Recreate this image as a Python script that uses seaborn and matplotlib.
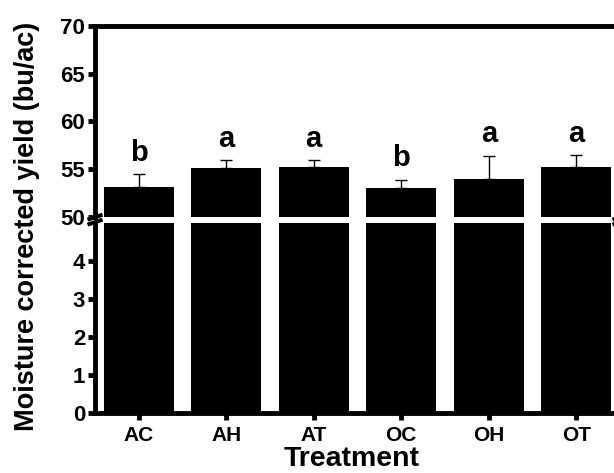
import matplotlib
matplotlib.use("Agg")
import matplotlib.pyplot as plt
from matplotlib.lines import Line2D
import seaborn as sns
import pandas as pd

# ---- data ----
treatments = ["AC", "AH", "AT", "OC", "OH", "OT"]
yield_means = [53.15, 55.15, 55.25, 53.05, 54.0, 55.25]
yield_errors = [1.3, 0.75, 0.7, 0.85, 2.4, 1.2]
sig_letters = ["b", "a", "a", "b", "a", "a"]
top_ticks = [50, 55, 60, 65, 70]
bottom_ticks = [0, 1, 2, 3, 4]

df = pd.DataFrame({"Treatment": treatments, "Yield": yield_means})

sns.set_style("ticks")
plt.rcParams["font.family"] = ["Liberation Sans", "DejaVu Sans"]
plt.rcParams["font.weight"] = "bold"
for key in ("text.color", "axes.labelcolor", "xtick.color", "ytick.color",
            "xtick.labelcolor", "ytick.labelcolor"):
    plt.rcParams[key] = "black"

W, H = 614, 473
fig = plt.figure(figsize=(W / 100, H / 100), dpi=100)


def fx(px):
    return px / W


def fy(py):
    return 1 - py / H


left_px, right_px = 95, 620
top_ax = fig.add_axes([fx(left_px), fy(216.7), (right_px - left_px) / W, (216.7 - 26) / H])
bot_ax = fig.add_axes([fx(left_px), fy(413.3), (right_px - left_px) / W, (413.3 - 223.3) / H])

LW = 3.5
n = len(treatments)
for ax in (top_ax, bot_ax):
    sns.barplot(data=df, x="Treatment", y="Yield", color="black", saturation=1,
                errorbar=None, width=0.8, ax=ax, linewidth=0)
    ax.set_xlabel("")
    ax.set_ylabel("")
    for s in ax.spines.values():
        s.set_linewidth(LW)
        s.set_color("black")
    ax.tick_params(axis="y", direction="out", length=5, width=LW, labelsize=16, pad=2,
                   colors="black")
    ax.patch.set_alpha(0)

# upward-only error bars on the upper panel
top_ax.errorbar(range(n), yield_means,
                yerr=[[0] * n, yield_errors],
                fmt="none", ecolor="black", elinewidth=1, capsize=4, capthick=1)

for i, (m, e, lab) in enumerate(zip(yield_means, yield_errors, sig_letters)):
    top_ax.text(i, m + e + 1.4, lab, ha="center", va="baseline",
                fontsize=21, fontweight="bold", color="black")

for ax in (top_ax, bot_ax):
    ax.set_xlim(-0.5, n - 0.5)

top_ax.set_ylim(50, 70)
top_ax.set_yticks(top_ticks)
top_ax.spines["bottom"].set_visible(False)
top_ax.spines["right"].set_visible(False)
top_ax.tick_params(axis="x", bottom=False, labelbottom=False)

bot_ax.set_ylim(0, 5)
bot_ax.set_yticks(bottom_ticks)
bot_ax.spines["top"].set_visible(False)
bot_ax.spines["right"].set_visible(False)
bot_ax.tick_params(axis="x", direction="out", length=5, width=LW, labelsize=15, pad=4,
                   colors="black")

bot_ax.set_xlabel("Treatment", fontsize=20.5, fontweight="bold", color="black")
bot_ax.xaxis.set_label_coords(0.489, -0.17)

fig.text(fx(27), fy(226), "Moisture corrected yield (bu/ac)", rotation=90,
         ha="center", va="center", fontsize=19.5, fontweight="bold", color="black")

# axis break marks
for cx in (left_px, right_px):
    for dy in (0, 5):
        fig.add_artist(Line2D([fx(cx - 7.5), fx(cx + 7.5)],
                              [fy(219.7 + dy), fy(214.7 + dy)],
                              transform=fig.transFigure, color="black",
                              linewidth=2.9, solid_capstyle="butt", clip_on=False))

fig.savefig("out.png", dpi=100)
